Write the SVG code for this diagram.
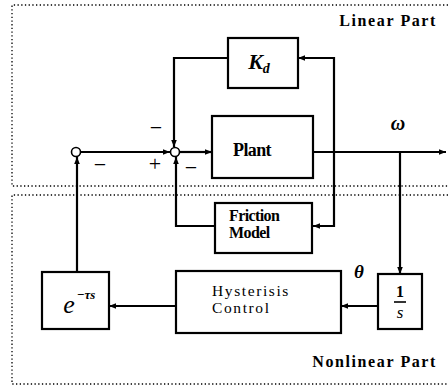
<svg xmlns="http://www.w3.org/2000/svg" width="448" height="387" viewBox="0 0 448 387">
<style>
.blk{fill:#fff;stroke:#000;stroke-width:2.2}
.w{fill:none;stroke:#000;stroke-width:2.2}
.dot{fill:none;stroke:#000;stroke-width:1.3;stroke-dasharray:1.3 2.4}
.t{font-family:"Liberation Serif",serif;fill:#000}
.part{font-family:"Liberation Serif",serif;font-size:16px;font-weight:bold;letter-spacing:1.6px}
.sj{fill:#fff;stroke:#000;stroke-width:1.6}
.sg{font-family:"Liberation Serif",serif;font-size:22px;fill:#000}
</style>
<defs>
<marker id="a" viewBox="0 0 10 10" refX="10" refY="5" markerWidth="7" markerHeight="7" markerUnits="userSpaceOnUse" orient="auto">
<path d="M0,1 L10,5 L0,9 Z" fill="#000"/>
</marker>
</defs>
<rect width="448" height="387" fill="#fff"/>
<g id="linear-region">
<path class="dot" d="M448,5 H12 V186 H448"/>
<text class="t part" x="437" y="26" text-anchor="end">Linear Part</text>
</g>
<g id="nonlinear-region">
<path class="dot" d="M448,195 H12 V384 H448"/>
<text class="t part" x="437" y="367" text-anchor="end">Nonlinear Part</text>
</g>
<g id="connectors">
<path class="w" d="M81,152 H170" marker-end="url(#a)"/>
<path class="w" d="M180,152 H212" marker-end="url(#a)"/>
<path class="w" d="M313,152 H446" marker-end="url(#a)"/>
<path class="w" d="M334,152 V58 H298" marker-end="url(#a)"/>
<path class="w" d="M228,58 H174 V147" marker-end="url(#a)"/>
<path class="w" d="M334,152 V226 H313" marker-end="url(#a)"/>
<path class="w" d="M215,226 H176 V157" marker-end="url(#a)"/>
<path class="w" d="M400,152 V274" marker-end="url(#a)"/>
<path class="w" d="M378,306 H341" marker-end="url(#a)"/>
<path class="w" d="M176,306 H109" marker-end="url(#a)"/>
<path class="w" d="M77,272 V157" marker-end="url(#a)"/>
<text class="sg" x="100" y="172" text-anchor="middle">−</text>
<text class="sg" x="155" y="171" text-anchor="middle">+</text>
<text class="sg" x="156" y="135" text-anchor="middle">−</text>
<text class="sg" x="191" y="175" text-anchor="middle">−</text>
<text class="t" x="398" y="130" font-size="20" font-weight="bold" font-style="italic" text-anchor="middle">ω</text>
<text class="t" x="359" y="278" font-size="19" font-weight="bold" font-style="italic" text-anchor="middle">θ</text>
</g>
<g id="sum1"><circle class="sj" cx="76" cy="152" r="4.5"/></g>
<g id="sum2"><circle class="sj" cx="175" cy="152" r="4.5"/></g>
<g id="kd">
<rect class="blk" x="228" y="38" width="70" height="50"/>
<text class="t" x="259" y="69" font-size="22" font-weight="bold" font-style="italic" text-anchor="middle">K<tspan font-size="14" dy="4">d</tspan></text>
</g>
<g id="plant">
<rect class="blk" x="212" y="116" width="101" height="62"/>
<text class="t" x="252" y="156" font-size="18" font-weight="bold" text-anchor="middle" letter-spacing="-0.6">Plant</text>
</g>
<g id="friction">
<rect class="blk" x="215" y="203" width="97" height="50"/>
<text class="t" x="229" y="221" font-size="16" font-weight="bold" letter-spacing="-0.6">Friction</text>
<text class="t" x="229" y="238" font-size="16" font-weight="bold" letter-spacing="-0.6">Model</text>
</g>
<g id="delay">
<rect class="blk" x="42" y="272" width="67" height="57"/>
<text class="t" x="69" y="313" font-size="26" font-style="italic" text-anchor="middle">e</text>
<text class="t" x="86" y="299" font-size="13" font-weight="bold" font-style="italic" text-anchor="middle">−τs</text>
</g>
<g id="hysteresis">
<rect class="blk" x="176" y="271" width="165" height="62"/>
<text class="t" x="212" y="296" font-size="15.5" letter-spacing="1.6">Hysterisis</text>
<text class="t" x="212" y="313" font-size="15.5" letter-spacing="1.6">Control</text>
</g>
<g id="integrator">
<rect class="blk" x="378" y="274" width="44" height="55"/>
<text class="t" x="400" y="297" font-size="16" font-weight="bold" text-anchor="middle">1</text>
<line x1="394" y1="302" x2="406" y2="302" stroke="#000" stroke-width="1.6"/>
<text class="t" x="400" y="318" font-size="17" font-style="italic" text-anchor="middle">s</text>
</g>
</svg>
